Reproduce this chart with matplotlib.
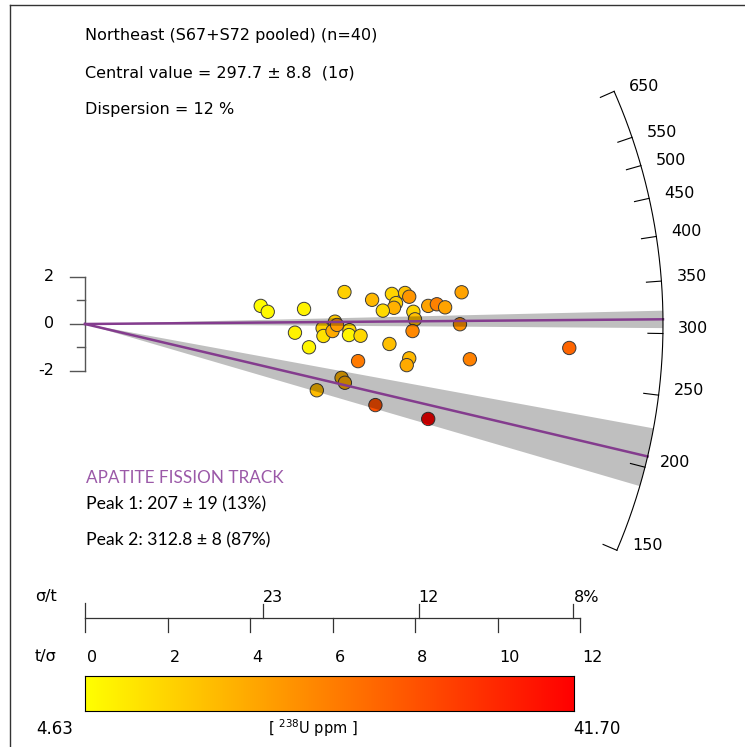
import numpy as np
import matplotlib
matplotlib.use('Agg')
import matplotlib.pyplot as plt
from matplotlib.colors import LinearSegmentedColormap, Normalize
from matplotlib.lines import Line2D

# radial plot data: x = t/sigma, y = standardised estimate
tsig = [4.26, 4.43, 5.31, 6.29, 6.96, 7.44, 7.76, 7.86, 7.54, 7.49,
        7.22, 8.32, 8.53, 8.73, 9.13, 7.96, 8.00, 6.06, 9.09, 5.09,
        5.76, 5.78, 6.00, 6.41, 6.40, 6.68, 5.43, 7.94, 7.38, 6.62,
        7.86, 7.80, 9.33, 6.22, 6.30, 5.62, 7.04, 8.32, 11.74, 6.11]
zstd = [0.77, 0.52, 0.64, 1.36, 1.03, 1.28, 1.32, 1.16, 0.89, 0.69,
        0.57, 0.77, 0.84, 0.71, 1.35, 0.52, 0.20, 0.10, -0.01, -0.37,
        -0.18, -0.51, -0.30, -0.26, -0.47, -0.50, -0.99, -0.30, -0.85, -1.58,
        -1.46, -1.75, -1.50, -2.29, -2.50, -2.82, -3.45, -4.04, -1.02, -0.04]
u_ppm = [5.0, 5.5, 6.5, 11.5, 15, 11, 13.5, 20, 11.5, 16,
         10, 18, 23, 18, 18, 11, 14, 12.5, 20.5, 6.5,
         11.5, 9, 17, 10, 6, 10.5, 6, 22, 14, 24,
         15, 17, 23, 15.5, 17, 14.5, 30, 41.7, 27, 19]
u_min, u_max = 4.63, 41.70

arc_ticks = [150, 200, 250, 300, 350, 400, 450, 500, 550, 650]
peaks = [207, 312.8]
peak_err = [19, 8]
tsig_ticks = [0, 2, 4, 6, 8, 10, 12]
sigt_pos = [4.32, 8.09, 11.84]
sigt_labels = ['23', '12', '8%']

z0 = np.log(308.5)   # reference value of the radial scale
gain = 0.59          # pixel slope per log unit
R = 578.0            # arc radius in pixels
sx, sy = 41.25, 23.5  # pixels per unit (x, y)

W, H = 745, 747
fig = plt.figure(figsize=(W / 100, H / 100), dpi=100)
ax = fig.add_axes([0, 0, 1, 1])
ax.set_xlim(-85 / sx, (W - 85) / sx)
ax.set_ylim(-(H - 324) / sy, 324 / sy)
ax.axis('off')


def px(p):
    return (p - 85) / sx


def py(p):
    return (324 - p) / sy


def ang(t):
    return np.arctan(gain * (np.log(t) - z0))


def arcpt(th, r=R):
    return r * np.cos(th) / sx, r * np.sin(th) / sy


cmap = LinearSegmentedColormap.from_list('u', ['#FFFF00', '#FF0000'])
norm = Normalize(u_min, u_max)

ax.scatter(tsig, zstd, c=u_ppm, cmap=cmap, norm=norm, s=92,
           edgecolors='#3a3a3a', linewidths=0.7, zorder=2)

# peaks: grey wedges + purple lines
for t, e in zip(peaks, peak_err):
    th = np.linspace(ang(t - e), ang(t + e), 40)
    xs, ys = arcpt(th)
    ax.fill(np.r_[0, xs], np.r_[0, ys], color='black', alpha=0.25, lw=0, zorder=3)
    xe, ye = arcpt(ang(t))
    ax.plot([0, xe], [0, ye], color='#843C8E', lw=1.8, zorder=4)

# arc
th = np.linspace(ang(min(arc_ticks)), ang(max(arc_ticks)), 300)
xs, ys = arcpt(th)
ax.plot(xs, ys, color='black', lw=0.8, zorder=5)
for t in arc_ticks:
    a = ang(t)
    x1, y1 = arcpt(a)
    x2, y2 = arcpt(a, R - 15)
    ax.plot([x1, x2], [y1, y2], color='black', lw=0.8)
    ax.text(x1 + 15 / sx, y1 + 5 / sy, str(t), ha='left', va='center', fontsize=11.5)

# left axis
ax.plot([0, 0], [-2, 2], color='#555555', lw=1)
for v in [-2, -1, 0, 1, 2]:
    L = 15 if v % 2 == 0 else 8
    ax.plot([0, -L / sx], [v, v], color='#555555', lw=1)
    if v % 2 == 0:
        ax.text(px(54), v, str(v), ha='right', va='center', fontsize=11.5)

# bottom precision axis
yb = py(618)
ax.plot([0, 12], [yb, yb], color='#333333', lw=0.9)
ax.plot([0, 0], [py(603), yb], color='#333333', lw=0.9)
for v in tsig_ticks:
    ax.plot([v, v], [yb, py(632)], color='#333333', lw=0.9)
    ax.text(v + 2 / sx, py(657), str(v), ha='left', va='center', fontsize=11.5)
for v, lab in zip(sigt_pos, sigt_labels):
    ax.plot([v, v], [yb, py(604)], color='#333333', lw=0.9)
    ax.text(v, py(597), lab, ha='left', va='center', fontsize=11.5)
ax.text(px(46), py(597), 'σ/t', ha='center', va='center', fontsize=11.5)
ax.text(px(46), py(657), 't/σ', ha='center', va='center', fontsize=11.5)

# header text
ax.text(px(85), py(36), 'Northeast (S67+S72 pooled) (n=40)', ha='left', va='center', fontsize=11.5)
ax.text(px(85), py(73), 'Central value = 297.7 ± 8.8  (1σ)', ha='left', va='center', fontsize=11.5)
ax.text(px(85), py(110), 'Dispersion = 12 %', ha='left', va='center', fontsize=11.5)

ax.text(px(86), py(478), 'APATITE FISSION TRACK', ha='left', va='center', fontsize=12.3,
        color='#9B59A8', family='Lato')
ax.text(px(86), py(504), 'Peak 1: 207 ± 19 (13%)', ha='left', va='center', fontsize=12.7,
        family='Lato')
ax.text(px(86), py(540), 'Peak 2: 312.8 ± 8 (87%)', ha='left', va='center', fontsize=12.7,
        family='Lato')

# colour bar
cax = fig.add_axes([85 / W, 1 - 711 / H, 489 / W, 35 / H])
cax.imshow(np.linspace(0, 1, 256)[None, :], aspect='auto', cmap=cmap)
cax.set_xticks([])
cax.set_yticks([])
for s in cax.spines.values():
    s.set_linewidth(0.8)
ax.text(px(55), py(729), f'{u_min:.2f}', ha='center', va='center', fontsize=12)
ax.text(px(597), py(729), f'{u_max:.2f}', ha='center', va='center', fontsize=12)
ax.text(px(313), py(728), r'[ $^{238}$U ppm ]', ha='center', va='center', fontsize=10.5)

# frame
fig.add_artist(Line2D([10 / W, 10 / W], [0, 1 - 5 / H], transform=fig.transFigure,
                      color='#333333', lw=1))
fig.add_artist(Line2D([10 / W, 1], [1 - 5 / H, 1 - 5 / H], transform=fig.transFigure,
                      color='#333333', lw=1))

fig.savefig('out.png', dpi=100)
